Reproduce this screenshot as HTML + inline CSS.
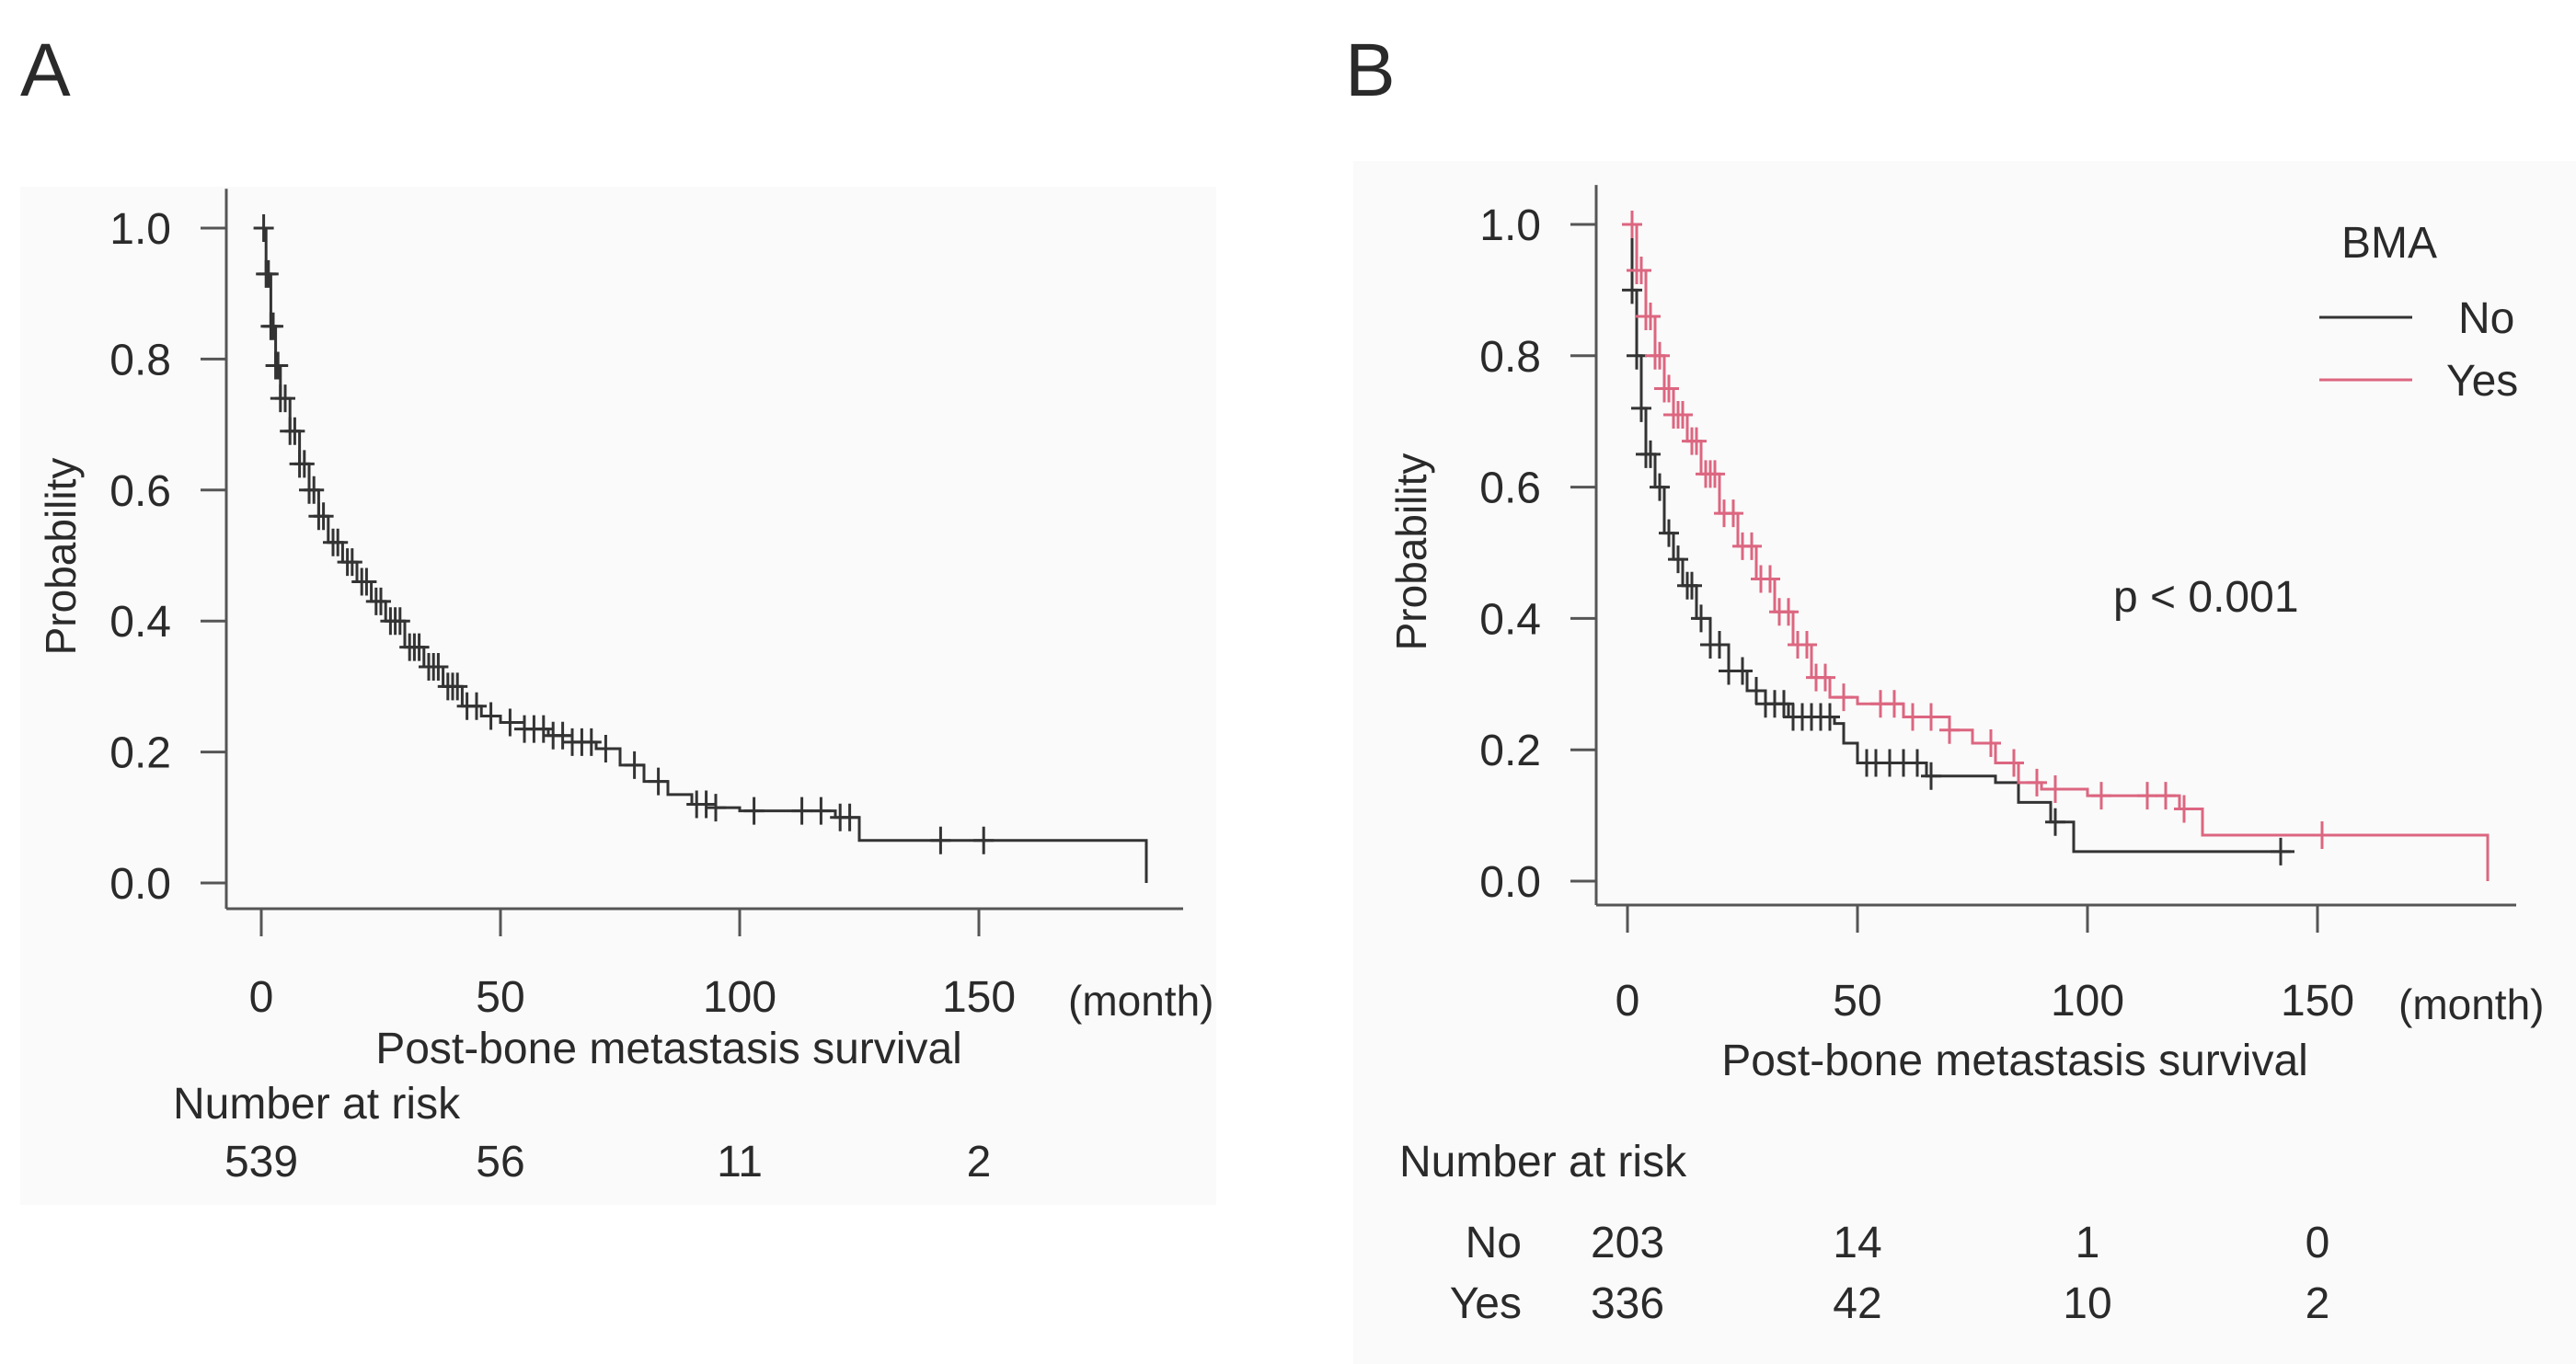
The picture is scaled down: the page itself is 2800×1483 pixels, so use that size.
<!DOCTYPE html>
<html><head><meta charset="utf-8"><style>
html,body{margin:0;padding:0;background:#fff;width:2800px;height:1483px;overflow:hidden}
svg text{font-family:"Liberation Sans",sans-serif;fill:#2a2a2a}
</style></head><body>
<svg id="s" width="2800" height="1483" viewBox="0 0 2800 1483" xmlns="http://www.w3.org/2000/svg">
<rect x="22" y="203" width="1300" height="1107" fill="#fafafa"/>
<rect x="1471" y="175" width="1329" height="1308" fill="#fafafa"/>
<text x="22" y="104" font-size="82">A</text>
<text x="1462" y="104" font-size="82">B</text>
<g id="A"></g><g id="B"></g>
</svg>
<script>
// Panel A data
const aTimes=[0,1,2,3,4,6,8,10,12,14,17,20,23,26,30,34,38,42,46,50,55,60,65,70,75,80,85,90,95,100,120,125,185];
const aSurv=[1.0,0.93,0.85,0.79,0.74,0.69,0.64,0.60,0.56,0.52,0.49,0.46,0.43,0.40,0.36,0.33,0.30,0.27,0.255,0.245,0.235,0.225,0.215,0.205,0.18,0.155,0.135,0.12,0.115,0.11,0.10,0.065,0.065];
const aCens=[0.5,1,1.5,2,2.5,3,3.5,4,5,6,7,8,9,10,11,12,13,15,16,18,19,21,22,24,25,27,28,29,31,32,33,35,36,37,39,40,41,43,45,48,52,55,57,59,61,63,65,67,69,72,78,83,91,93,95,103,113,117,121,123,142,151];
const aRisk=["539","56","11","2"];
// Panel B data
const noTimes=[0,1,2,3,4,6,8,10,12,15,18,22,26,30,35,45,47,50,65,80,85,92,97,145];
const noSurv=[1.0,0.9,0.8,0.72,0.65,0.6,0.53,0.49,0.45,0.40,0.36,0.32,0.29,0.27,0.25,0.24,0.21,0.18,0.16,0.15,0.12,0.09,0.045,0.045];
const noCens=[1,2,3,4,5,7,9,11,13,14,16,18,20,22,25,28,30,32,34,36,38,40,42,44,52,54,57,60,63,66,93,142];
const yesTimes=[0,2,4,6,8,10,13,16,20,24,28,32,36,40,44,50,60,70,75,80,85,90,100,120,125,187];
const yesSurv=[1.0,0.93,0.86,0.8,0.75,0.71,0.67,0.62,0.56,0.51,0.46,0.41,0.36,0.31,0.28,0.27,0.25,0.23,0.21,0.18,0.15,0.14,0.13,0.11,0.07,0.07];
const yesCens=[1,2,3,4,5,6,7,8,9,10,11,12,14,15,17,18,19,21,23,25,27,29,31,33,35,37,39,41,43,47,55,58,62,66,70,79,84,89,93,103,113,117,121,151];
const noRisk=["203","14","1","0"];
const yesRisk=["336","42","10","2"];
const xTicks=[0,50,100,150];
const yTicks=[0,0.2,0.4,0.6,0.8,1.0];
const NS="http://www.w3.org/2000/svg";
function mk(p,tag,at,txt){const e=document.createElementNS(NS,tag);for(const k in at)e.setAttribute(k,at[k]);if(txt!==undefined)e.textContent=txt;p.appendChild(e);return e;}
function stepAt(t,ts,ss){let v=ss[0];for(let i=0;i<ts.length;i++){if(ts[i]<=t)v=ss[i];}return v;}
function panel(g,c){
 const X=t=>c.x0+t*c.kx, Y=v=>c.y0-v*c.ky;
 let e=mk(g,'line',{x1:c.ax,y1:c.y0-1.06*c.ky,x2:c.ax,y2:c.ay,stroke:'#555','stroke-width':3});
 
 e=mk(g,'line',{x1:c.ax,y1:c.ay,x2:c.axEnd,y2:c.ay,stroke:'#555','stroke-width':3});
 
 yTicks.forEach(v=>{
  e=mk(g,'line',{x1:c.ax-28,y1:Y(v),x2:c.ax,y2:Y(v),stroke:'#555','stroke-width':3});
  
  e=mk(g,'text',{x:c.ax-60,y:Y(v)+17,'font-size':48,'text-anchor':'end'},v.toFixed(1));
  
 });
 xTicks.forEach(t=>{
  e=mk(g,'line',{x1:X(t),y1:c.ay,x2:X(t),y2:c.ay+30,stroke:'#555','stroke-width':3});
  
  e=mk(g,'text',{x:X(t),y:c.xly,'font-size':48,'text-anchor':'middle'},String(t));
  
 });
 e=mk(g,'text',{x:c.monthX,y:c.xly+4,'font-size':46},'(month)');
 
 e=mk(g,'text',{x:c.titleX,y:c.titleY,'font-size':48,'text-anchor':'middle'},'Post-bone metastasis survival');
 
 e=mk(g,'text',{x:0,y:0,'font-size':46,'text-anchor':'middle',transform:`translate(${c.plX},${c.plY}) rotate(-90)`},'Probability');
 
 c.series.forEach(s=>{
  let d=`M${X(s.t[0])},${Y(s.s[0])}`;
  for(let i=1;i<s.t.length;i++){d+=`H${X(s.t[i])}V${Y(s.s[i])}`;}
  if(s.drop)d+=`V${Y(0)}`;
  e=mk(g,'path',{d:d,fill:'none',stroke:s.col,'stroke-width':3});
  
  s.c.forEach(t=>{
   const v=stepAt(t,s.t,s.s);
   e=mk(g,'path',{d:`M${X(t)},${Y(v)-15}V${Y(v)+15}M${X(t)-11},${Y(v)}H${X(t)+11}`,stroke:s.col,'stroke-width':3,fill:'none'});
   
  });
 });
 e=mk(g,'text',{x:c.nrX,y:c.nrY,'font-size':48},'Number at risk');
 
 c.rows.forEach(r=>{
  if(r.label){e=mk(g,'text',{x:c.rowLabelX,y:r.y,'font-size':48,'text-anchor':'end',fill:'#444'},r.label);
   }
  r.v.forEach((v,i)=>{
   e=mk(g,'text',{x:X(xTicks[i]),y:r.y,'font-size':48,'text-anchor':'middle'},v);
   
  });
 });
}
panel(document.getElementById('A'),{x0:284,kx:5.2,y0:960,ky:712,ax:246,ay:988,axEnd:1286,xly:1100,monthX:1161,titleX:727,titleY:1156,plX:82,plY:605,nrX:188,nrY:1216,rowLabelX:0,
 series:[{name:'overall',t:aTimes,s:aSurv,c:aCens,col:'#333',drop:true}],
 rows:[{v:aRisk,y:1279}]});
panel(document.getElementById('B'),{x0:1769,kx:5.0,y0:958,ky:714,ax:1735,ay:984,axEnd:2735,xly:1104,monthX:2607,titleX:2190,titleY:1169,plX:1550,plY:600,nrX:1521,nrY:1279,rowLabelX:1654,
 series:[{name:'bma-no',t:noTimes,s:noSurv,c:noCens,col:'#333',drop:false},{name:'bma-yes',t:yesTimes,s:yesSurv,c:yesCens,col:'#dc6680',drop:true}],
 rows:[{label:'No',v:noRisk,y:1367},{label:'Yes',v:yesRisk,y:1433}]});
const B=document.getElementById('B');
let e=mk(B,'text',{x:2545,y:280,'font-size':48},'BMA');

e=mk(B,'line',{x1:2521,y1:345,x2:2622,y2:345,stroke:'#333','stroke-width':3});

e=mk(B,'text',{x:2672,y:362,'font-size':48},'No');

e=mk(B,'line',{x1:2521,y1:413,x2:2622,y2:413,stroke:'#dc6680','stroke-width':3});

e=mk(B,'text',{x:2659,y:430,'font-size':48},'Yes');

e=mk(B,'text',{x:2297,y:665,'font-size':48},'p < 0.001');

</script>
</body></html>
